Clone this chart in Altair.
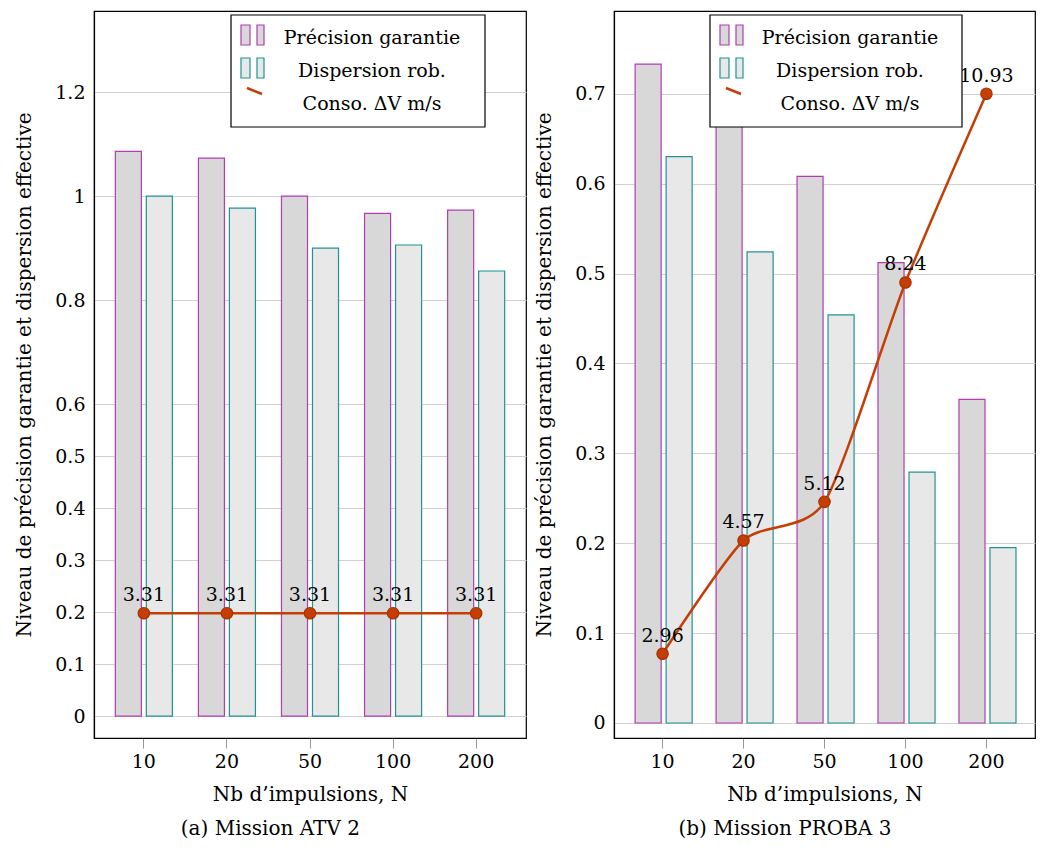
import altair as alt
import pandas as pd

N_LABELS = ["10", "20", "50", "100", "200"]
SERIES = ["Précision garantie", "Dispersion rob.", "Conso. ΔV m/s"]

# Mission ATV 2
atv_prec = [1.086, 1.073, 1.0, 0.967, 0.973]
atv_disp = [1.0, 0.977, 0.9, 0.906, 0.856]
atv_line = [0.198, 0.198, 0.198, 0.198, 0.198]
atv_lbl = ["3.31", "3.31", "3.31", "3.31", "3.31"]

# Mission Proba 3
pr_prec = [0.733, 0.71, 0.608, 0.512, 0.36]
pr_disp = [0.63, 0.524, 0.454, 0.279, 0.195]
pr_line = [0.077, 0.203, 0.246, 0.49, 0.70]
pr_lbl = ["2.96", "4.57", "5.12", "8.24", "10.93"]

FONT = "DejaVu Serif"
MAG = "#b23cb2"
TEAL = "#1f9494"
ORANGE = "#c43e06"
FILL_P = "#d8d8d8"
FILL_D = "#e8e8e8"


def legend_layers(bx, by, bw, bh):
    one = pd.DataFrame({"k": [0]})
    layers = [
        alt.Chart(one).mark_rect(fill="white", stroke="black", strokeWidth=1.2).encode(
            x=alt.value(bx), x2=alt.value(bx + bw), y=alt.value(by), y2=alt.value(by + bh))
    ]
    rows = [by + 20, by + 53]
    for i, (col, fil) in enumerate([(MAG, FILL_P), (TEAL, FILL_D)]):
        for (a, b) in [(10, 19), (26, 33)]:
            layers.append(
                alt.Chart(one).mark_rect(fill=fil, stroke=col, strokeWidth=1.2).encode(
                    x=alt.value(bx + a), x2=alt.value(bx + b),
                    y=alt.value(rows[i] - 10), y2=alt.value(rows[i] + 10)))
    layers.append(
        alt.Chart(one).mark_rule(color=ORANGE, strokeWidth=2.5).encode(
            x=alt.value(bx + 16), x2=alt.value(bx + 31),
            y=alt.value(by + 73), y2=alt.value(by + 79)))
    for i, s in enumerate(SERIES):
        layers.append(
            alt.Chart(pd.DataFrame({"label": [s]})).mark_text(
                font=FONT, fontSize=19, align="center", baseline="middle", color="black"
            ).encode(text="label:N", x=alt.value(bx + bw / 2 + 14),
                     y=alt.value(by + 23 + 33 * i)))
    return layers


def panel(prec, disp, line_y, line_lbl, ydomain, yticks, w, h, lx, ly, lw, caption, interp):
    bars_df = pd.DataFrame({
        "N": N_LABELS * 2,
        "series": [SERIES[0]] * 5 + [SERIES[1]] * 5,
        "value": prec + disp,
    })
    line_df = pd.DataFrame({
        "N": N_LABELS,
        "series": [SERIES[2]] * 5,
        "value": line_y,
        "label": line_lbl,
    })
    x = alt.X(
        "N:N", sort=N_LABELS, scale=alt.Scale(paddingInner=0, paddingOuter=0.1),
        axis=alt.Axis(title="Nb d’impulsions, N", labelAngle=0, tickSize=10,
                      labelPadding=4, titlePadding=13),
    )
    y = alt.Y(
        "value:Q", scale=alt.Scale(domain=ydomain, nice=False, zero=False),
        axis=alt.Axis(title="Niveau de précision garantie et dispersion effective",
                      values=yticks, format=".2~f", grid=True, tickSize=0,
                      labelPadding=9, titlePadding=20),
    )
    bars = alt.Chart(bars_df).mark_bar(strokeWidth=1.2).encode(
        x=x,
        xOffset=alt.XOffset("series:N", sort=SERIES[:2],
                            scale=alt.Scale(paddingInner=0.16, paddingOuter=0.42)),
        y=y,
        stroke=alt.Stroke("series:N", scale=alt.Scale(domain=SERIES[:2], range=[MAG, TEAL]),
                          legend=None),
        fill=alt.Fill("series:N", scale=alt.Scale(domain=SERIES[:2], range=[FILL_P, FILL_D]),
                      legend=None),
    )
    line = alt.Chart(line_df).mark_line(strokeWidth=2.5, color=ORANGE, **interp).encode(
        x=x, y=y)
    pts = alt.Chart(line_df).mark_point(filled=True, size=130, opacity=1, fill=ORANGE,
                                        stroke="#a83200", strokeWidth=1.2).encode(x=x, y=y)
    txt = alt.Chart(line_df).mark_text(font=FONT, fontSize=19, dy=-18, color="black").encode(
        x=x, y=y, text="label:N")
    return alt.layer(bars, line, pts, txt, *legend_layers(lx, ly, lw, 112)).properties(
        width=w, height=h,
        title=alt.TitleParams(caption, orient="bottom", frame="bounds", anchor="middle",
                              font=FONT, fontSize=20, fontWeight="normal", offset=15),
    )


left = panel(atv_prec, atv_disp, atv_line, atv_lbl, [-0.042, 1.356],
             [0, 0.1, 0.2, 0.3, 0.4, 0.5, 0.6, 0.8, 1.0, 1.2],
             432, 727, 137, 4, 254, "(a) Mission ATV 2", {"interpolate": "linear"})
right = panel(pr_prec, pr_disp, pr_line, pr_lbl, [-0.0167, 0.792],
              [0, 0.1, 0.2, 0.3, 0.4, 0.5, 0.6, 0.7],
              421, 727, 96, 4, 252, "(b) Mission PROBA 3",
              {"interpolate": "cardinal", "tension": 0.3})

chart = alt.hconcat(left, right, spacing=7).properties(
    padding={"left": 6, "top": 2, "right": 0, "bottom": 0}
).configure_view(
    stroke="black", strokeWidth=1.2
).configure_axis(
    labelFont=FONT, titleFont=FONT, labelFontSize=19, titleFontSize=20,
    labelColor="black", titleColor="black", titleFontWeight="normal",
    domainColor="black", domainWidth=1.2, tickColor="#999999",
    gridColor="#d0d0d0", gridWidth=1.2,
).configure_axisX(grid=False)

chart.save("out.html", embed_options={"renderer": "svg", "actions": False})
